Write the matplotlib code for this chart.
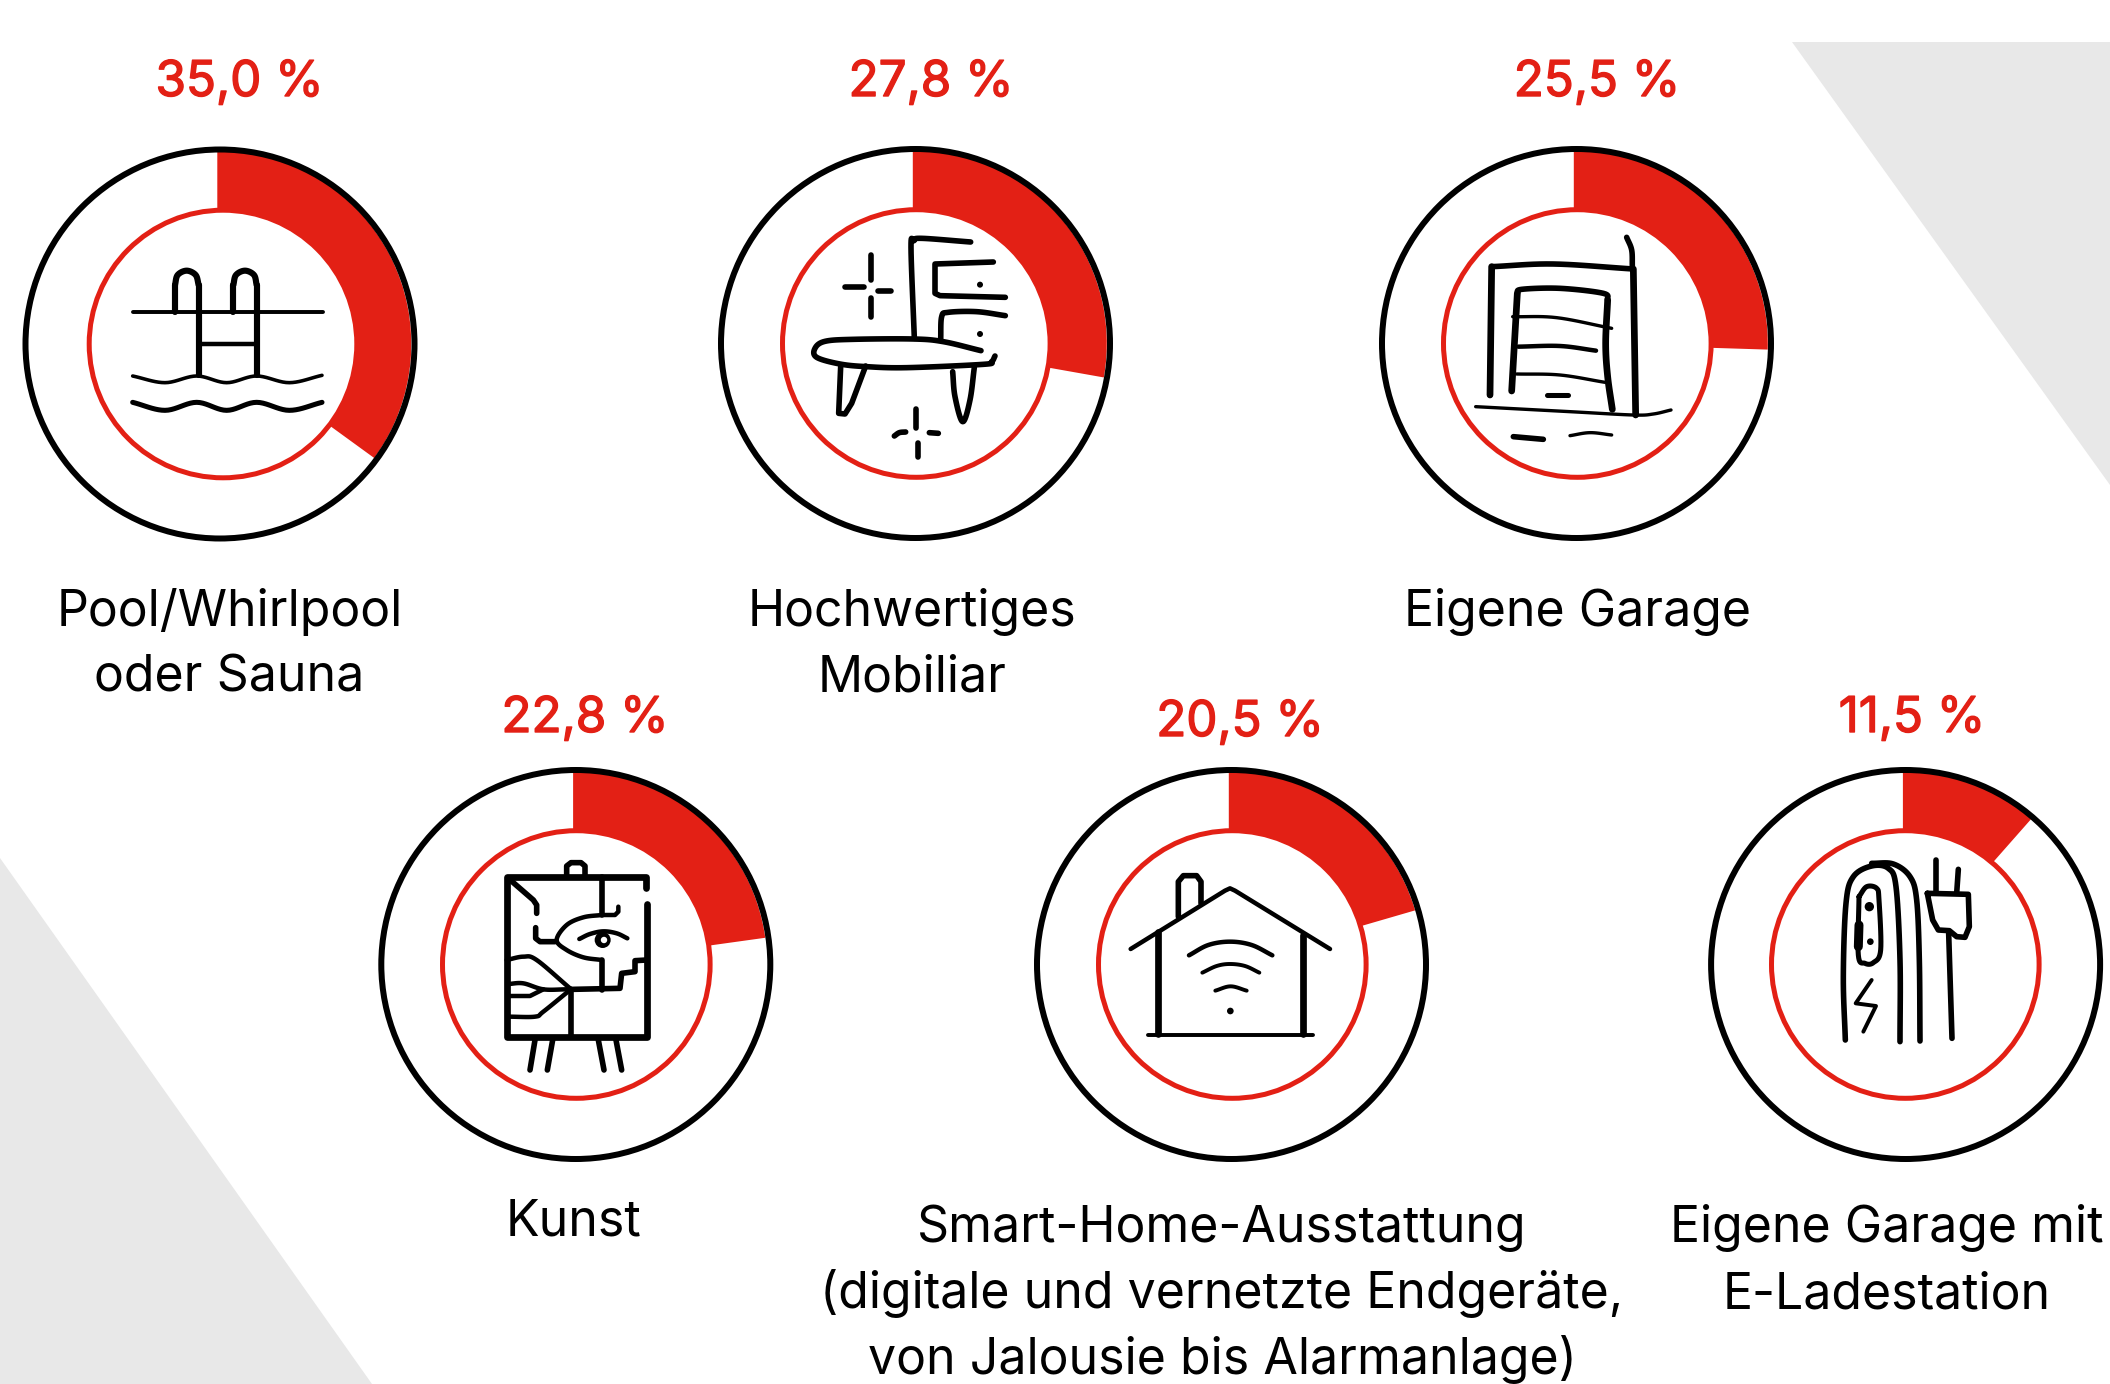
import numpy as np
import matplotlib
matplotlib.use("Agg")
import matplotlib.pyplot as plt
from matplotlib.patches import Wedge, Circle, Polygon
import matplotlib.patheffects as pe

values = [35.0, 27.8, 25.5, 22.8, 20.5, 11.5]
labels = [
    ["Pool/Whirlpool", "oder Sauna"],
    ["Hochwertiges", "Mobiliar"],
    ["Eigene Garage"],
    ["Kunst"],
    ["Smart-Home-Ausstattung", "(digitale und vernetzte Endgeräte,", "von Jalousie bis Alarmanlage)"],
    ["Eigene Garage mit", "E-Ladestation"],
]

# layout (pixel space of the 2110x1384 canvas)
centers = [(220, 344), (915.5, 343.5), (1576.5, 343.5), (575.8, 964.5), (1231.5, 964.5), (1905.6, 964.5)]
ring_x = [223, 916.3, 1577.3, 576.3, 1232.3, 1905.3]
pct_pos = [(239.5, 96), (931, 96), (1597, 96), (585, 732), (1240, 736), (1912, 732)]
label_x = [229.5, 912, 1578, 573, 1222, 1887]
label_y = [625.5, 625.5, 625.5, 1235, 1241.8, 1241.8]
LINE = 66.3

RED = "#E32015"
GREY = "#E8E8E8"
FONT = ["Inter", "Liberation Sans", "DejaVu Sans"]

fig = plt.figure(figsize=(21.10, 13.84), dpi=100, facecolor="white")
ax = fig.add_axes([0, 0, 1, 1])
ax.set_xlim(0, 2110)
ax.set_ylim(1384, 0)
ax.axis("off")
PX = 0.72  # points per pixel

ax.add_patch(Polygon([(1792, 42), (2110, 42), (2110, 485)], fc=GREY, ec="none", zorder=0))
ax.add_patch(Polygon([(0, 858), (372, 1384), (0, 1384)], fc=GREY, ec="none", zorder=0))

for (cx, cy), rx, v in zip(centers, ring_x, values):
    ax.add_patch(Wedge((cx - 2.7, cy), 194, -90, -90 + 3.6 * v, fc=RED, ec="none", zorder=1))
    ax.add_patch(Circle((rx, cy), 133.8, fc="white", ec=RED, lw=5 * PX, zorder=2))
    ax.add_patch(Circle((cx, cy), 194.5, fc="none", ec="black", lw=6 * PX, zorder=3))

for (x, y), v in zip(pct_pos, values):
    ax.text(x, y, f"{v:.1f}".replace(".", ",") + " %", color=RED, fontsize=35.5, family=FONT,
            ha="center", va="baseline", zorder=5,
            path_effects=[pe.withStroke(linewidth=1.0, foreground=RED)])

for x, y, lines in zip(label_x, label_y, labels):
    for i, line in enumerate(lines):
        ax.text(x, y + i * LINE, line, color="black", fontsize=36, family=FONT,
                ha="center", va="baseline", zorder=5)


def smooth(pts, n=10):
    p = np.array(pts, float)
    if len(p) < 3:
        return p
    q = np.vstack([2 * p[0] - p[1], p, 2 * p[-1] - p[-2]])
    out = []
    for i in range(1, len(q) - 2):
        for t in np.linspace(0, 1, n, endpoint=False):
            a, b, c, d = q[i - 1], q[i], q[i + 1], q[i + 2]
            out.append(0.5 * (2 * b + (c - a) * t + (2 * a - 5 * b + 4 * c - d) * t ** 2
                              + (3 * b - a - 3 * c + d) * t ** 3))
    out.append(p[-1])
    return np.array(out)


def icon(ox, oy, strokes, dots=()):
    """Icon strokes are given in 3x crop coordinates; (points, width_px, curved)."""
    for pts, w, curved in strokes:
        xy = smooth(pts) if curved else np.array(pts, float)
        ax.plot(xy[:, 0] / 3 + ox, xy[:, 1] / 3 + oy, color="black", lw=1.12 * w * PX,
                solid_capstyle="round", solid_joinstyle="round", zorder=4)
    for x, y, r in dots:
        ax.add_patch(Circle((x / 3 + ox, y / 3 + oy), r / 3, fc="black", ec="none", zorder=4))


# pool
icon(0, 30, [
    ([(398, 847), (968, 847)], 3.5, False),
    ([(525, 847), (525, 765)], 5.5, False),
    ([(525, 765), (533, 735), (560, 722), (587, 735), (596, 765)], 5.5, True),
    ([(596, 765), (596, 1035)], 5.5, False),
    ([(700, 847), (700, 765)], 5.5, False),
    ([(700, 765), (708, 735), (735, 722), (762, 735), (770, 765)], 5.5, True),
    ([(770, 765), (770, 1035)], 5.5, False),
    ([(596, 943), (770, 943)], 4, False),
    ([(398, 1038), (495, 1058), (590, 1038), (680, 1058), (770, 1038), (868, 1058), (966, 1036)], 3.2, True),
    ([(398, 1117), (495, 1141), (590, 1117), (680, 1141), (770, 1117), (868, 1141), (966, 1117)], 4.5, True),
])
# furniture
icon(700, 130, [
    ([(513, 375), (513, 450)], 5, False), ([(513, 503), (513, 560)], 5, False),
    ([(436, 470), (492, 470)], 5, False), ([(533, 483), (572, 483)], 5, False),
    ([(812, 336), (665, 325), (642, 332), (633, 352), (643, 625)], 5, True),
    ([(880, 396), (705, 402), (705, 490), (720, 497), (916, 502)], 5, False),
    ([(916, 557), (830, 545), (745, 547), (725, 560), (722, 630)], 5, True),
    ([(843, 662), (730, 635), (640, 627), (460, 628), (375, 634), (345, 655), (350, 682), (420, 702),
      (500, 710), (620, 713), (850, 703), (875, 695), (885, 678)], 5, True),
    ([(422, 710), (416, 850), (435, 852), (455, 820), (497, 708)], 5, False),
    ([(758, 725), (765, 800), (788, 875), (810, 810), (823, 712)], 5, True),
    ([(648, 838), (648, 895)], 5, False), ([(655, 938), (655, 982)], 5, False),
    ([(583, 918), (598, 908), (617, 906)], 5, True), ([(688, 908), (715, 910)], 5, False),
], dots=[(840, 464, 9), (840, 612, 9)])
# garage
icon(1370, 130, [
    ([(770, 322), (785, 360), (787, 410)], 5, True),
    ([(360, 795), (365, 410)], 6, False),
    ([(365, 410), (550, 402), (790, 417)], 5, True),
    ([(790, 417), (797, 855)], 6, False),
    ([(425, 783), (442, 490)], 6, False),
    ([(442, 490), (455, 478), (570, 475), (700, 490), (713, 510)], 5, True),
    ([(713, 510), (707, 640), (713, 740), (727, 838)], 6, True),
    ([(428, 560), (560, 563), (725, 595)], 3, True),
    ([(445, 650), (570, 648), (678, 662)], 4, True),
    ([(440, 732), (570, 735), (705, 757)], 3, True),
    ([(530, 795), (595, 795)], 4.5, False),
    ([(317, 830), (600, 845), (790, 855), (850, 852), (903, 840)], 3, True),
    ([(430, 920), (520, 928)], 5, False),
    ([(600, 917), (660, 908), (725, 915)], 3, True),
])
# art
icon(370, 760, [
    ([(828, 385), (828, 350), (410, 350), (410, 830), (830, 830), (830, 432)], 6, False),
    ([(590, 345), (590, 318), (603, 308), (633, 308), (645, 318), (645, 345)], 5, False),
    ([(415, 355), (490, 420), (500, 435), (500, 460)], 5, False),
    ([(695, 352), (695, 465)], 5, False), ([(695, 600), (695, 690)], 5, False),
    ([(745, 440), (745, 455), (735, 465), (695, 465)], 4, False),
    ([(695, 465), (640, 472), (590, 495), (560, 540), (590, 570), (640, 592), (695, 600)], 4, True),
    ([(497, 503), (497, 535), (510, 545), (555, 545)], 5, False),
    ([(628, 537), (660, 522), (700, 514), (740, 520), (772, 535)], 4, True),
    ([(830, 600), (795, 602), (795, 635), (755, 640), (750, 685), (610, 688)], 5, False),
    ([(603, 688), (603, 830)], 5, False),
    ([(410, 600), (460, 590), (500, 600), (600, 685)], 4, True),
    ([(415, 672), (460, 670), (520, 688), (590, 688)], 4, True),
    ([(415, 708), (480, 708), (520, 688)], 4, False),
    ([(415, 770), (495, 770), (520, 755), (600, 690)], 4, True),
    ([(495, 840), (480, 930)], 5, False), ([(548, 840), (532, 930)], 5, False),
    ([(685, 840), (702, 930)], 5, False), ([(738, 840), (755, 930)], 5, False),
], dots=[(698, 540, 24)])
ax.add_patch(Circle((702 / 3 + 370, 540 / 3 + 760), 3.2, fc="white", ec="none", zorder=4.5))
# smart home
icon(1020, 760, [
    ([(332, 567), (615, 392), (630, 385), (645, 392), (930, 567)], 4, False),
    ([(413, 515), (413, 822)], 6, False), ([(850, 525), (850, 822)], 6, False),
    ([(385, 824), (880, 824)], 3.5, False),
    ([(475, 470), (475, 365), (490, 347), (530, 347), (543, 365), (543, 430)], 5, False),
    ([(507, 586), (565, 555), (630, 545), (695, 555), (757, 586)], 4, True),
    ([(547, 638), (590, 618), (630, 612), (675, 618), (718, 638)], 3.5, True),
    ([(586, 692), (632, 679), (680, 692)], 3.5, True),
], dots=[(631, 753, 10)])
# e-charging
icon(1690, 760, [
    ([(466, 840), (460, 650), (468, 430), (490, 350), (545, 318), (595, 325), (618, 380), (630, 600),
      (630, 845)], 5, True),
    ([(545, 310), (610, 312), (660, 350), (680, 420), (688, 600), (690, 843)], 5, True),
    ([(507, 410), (530, 380), (560, 385), (567, 420), (572, 570), (550, 608), (525, 610), (505, 585),
      (507, 410)], 4.5, True),
    ([(507, 495), (505, 560)], 8, False),
    ([(545, 660), (497, 730), (558, 738), (520, 815)], 3.5, False),
    ([(738, 300), (738, 400)], 5, False), ([(805, 328), (800, 400)], 5, False),
    ([(712, 400), (835, 403), (838, 500), (825, 532), (800, 530), (778, 512), (745, 510), (728, 480),
      (712, 400)], 5, False),
    ([(776, 520), (786, 835)], 5, False),
], dots=[(538, 440, 14), (541, 545, 10)])

fig.savefig("out.png", dpi=100, facecolor="white")
